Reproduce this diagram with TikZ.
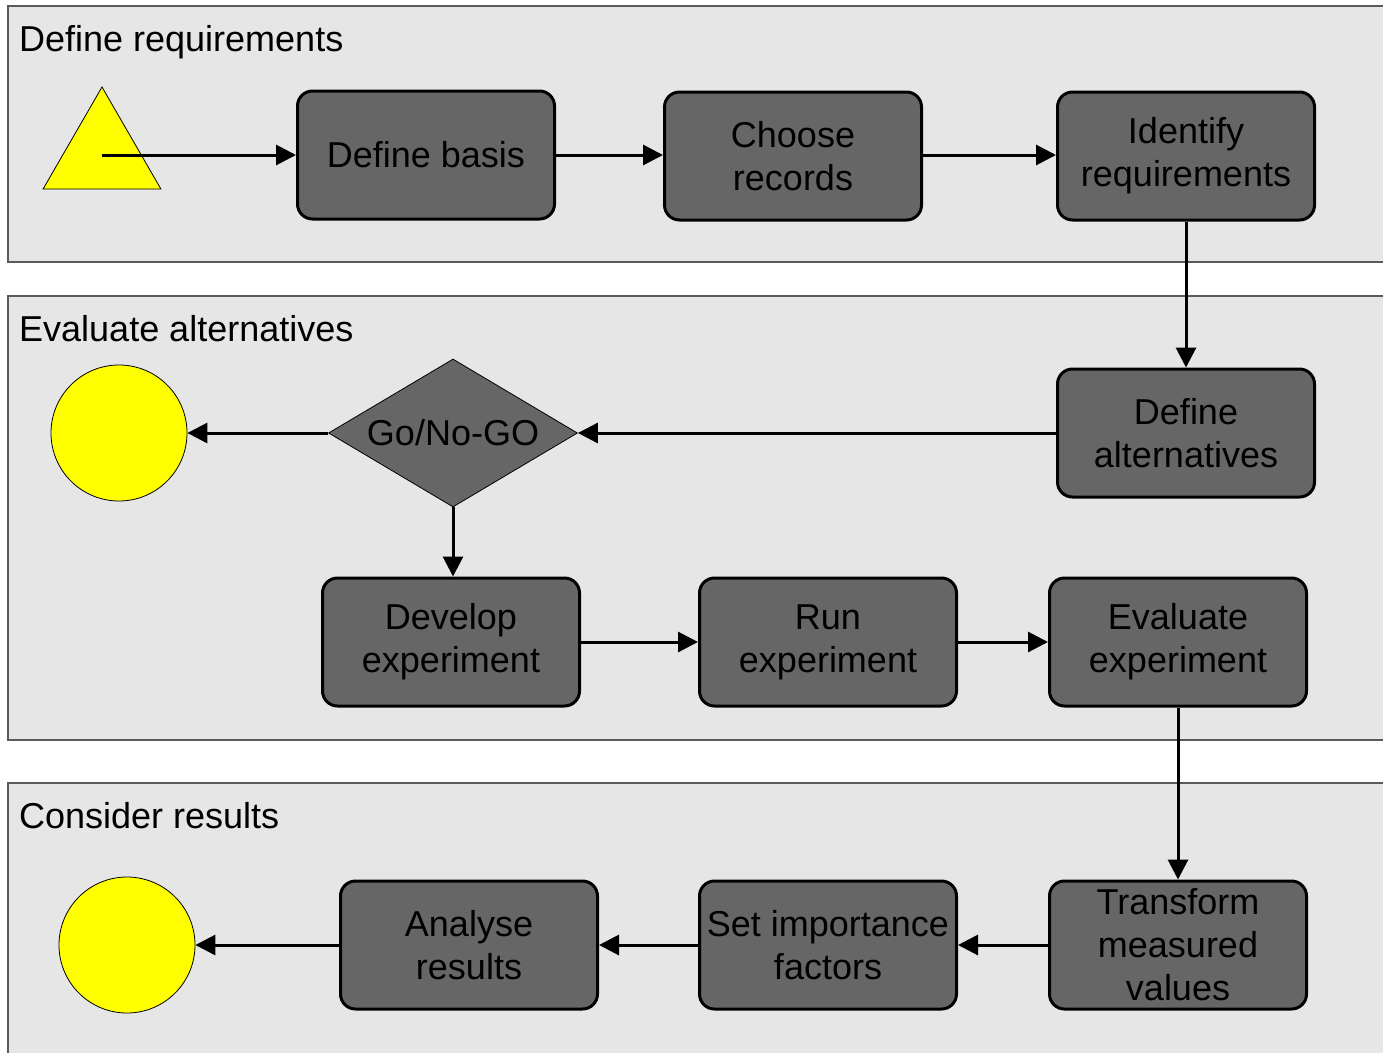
\documentclass[tikz,border=0pt]{standalone}
\usepackage{fontspec}
\setmainfont{Liberation Sans}
\usetikzlibrary{arrows.meta,shapes.geometric}
\definecolor{lanegray}{HTML}{E6E6E6}
\definecolor{boxgray}{HTML}{666666}
\definecolor{laneline}{HTML}{5A5A5A}
\definecolor{startyellow}{RGB}{255,255,0}

\tikzset{
  lane/.style={fill=lanegray, draw=laneline, line width=1.2pt},
  lanetitle/.style={anchor=base west, inner sep=0pt, font=\fontsize{36}{43}\selectfont},
  task/.style={rectangle, rounded corners=15pt, fill=boxgray, draw=black, line width=3pt,
    minimum width=257pt, minimum height=128pt, inner xsep=2pt, inner ysep=0pt,
    align=center, font=\fontsize{36}{43}\selectfont},
  decision/.style={diamond, aspect=1.68, fill=boxgray, draw=black, line width=0.8pt,
    minimum width=249pt, minimum height=148pt, inner sep=0pt, font=\fontsize{36}{43}\selectfont},
  terminal/.style={circle, fill=startyellow, draw=black, line width=0.8pt, minimum size=136pt, inner sep=0pt},
  startnode/.style={regular polygon, regular polygon sides=3, fill=startyellow, draw=black,
    line width=0.8pt, minimum size=136pt, inner sep=0pt},
  flow/.style={-{Triangle[length=20pt,width=20pt]}, line width=3pt},
}

\begin{document}
\begin{tikzpicture}[x=1pt, y=-1pt]
  \useasboundingbox (0,0) rectangle (1383,1052);

  % Lanes
  \fill[white] (0,0) rectangle (1383,1052);
  \draw[lane] (8,6) rectangle (1395,262);
  \draw[lane] (8,296) rectangle (1395,740);
  \draw[lane] (8,783) rectangle (1395,1065);
  \node[lanetitle] (t1) at (19,51) {Define requirements};
  \node[lanetitle] (t2) at (19,341) {Evaluate alternatives};
  \node[lanetitle] (t3) at (19,828) {Consider results};

  % Define requirements
  \node[startnode] (start) at (102,155) {};
  \node[task] (basis) at (426,155) {Define basis};
  \node[task] (records) at (793,156) {Choose\\records};
  \node[task] (ident) at (1186,156) {Identify\\requirements};

  % Evaluate alternatives
  \node[task] (alts) at (1186,433) {Define\\alternatives};
  \node[decision] (gonogo) at (453,433) {Go/No-GO};
  \node[terminal] (stop1) at (119,433) {};
  \node[task] (develop) at (451,642) {Develop\\experiment};
  \node[task] (run) at (828,642) {Run\\experiment};
  \node[task] (evalexp) at (1178,642) {Evaluate\\experiment};

  % Consider results
  \node[task] (transform) at (1178,945) {Transform\\measured\\values};
  \node[task] (factors) at (828,945) {Set importance\\factors};
  \node[task] (analyse) at (469,945) {Analyse\\results};
  \node[terminal] (stop2) at (127,945) {};

  % Connectors
  \draw[flow] (start.center) -- (basis);
  \draw[flow] (basis) -- (records.west |- basis);
  \draw[flow] (records.east |- basis) -- (ident.west |- basis);
  \draw[flow] (ident) -- (alts);
  \draw[flow] (alts.west) -- (gonogo.east);
  \draw[flow] (gonogo.west) -- (stop1.east);
  \draw[flow] (gonogo.south) -- (gonogo.south |- develop.north);
  \draw[flow] (develop) -- (run);
  \draw[flow] (run) -- (evalexp);
  \draw[flow] (evalexp) -- (transform);
  \draw[flow] (transform) -- (factors);
  \draw[flow] (factors) -- (analyse);
  \draw[flow] (analyse) -- (stop2);
\end{tikzpicture}
\end{document}
